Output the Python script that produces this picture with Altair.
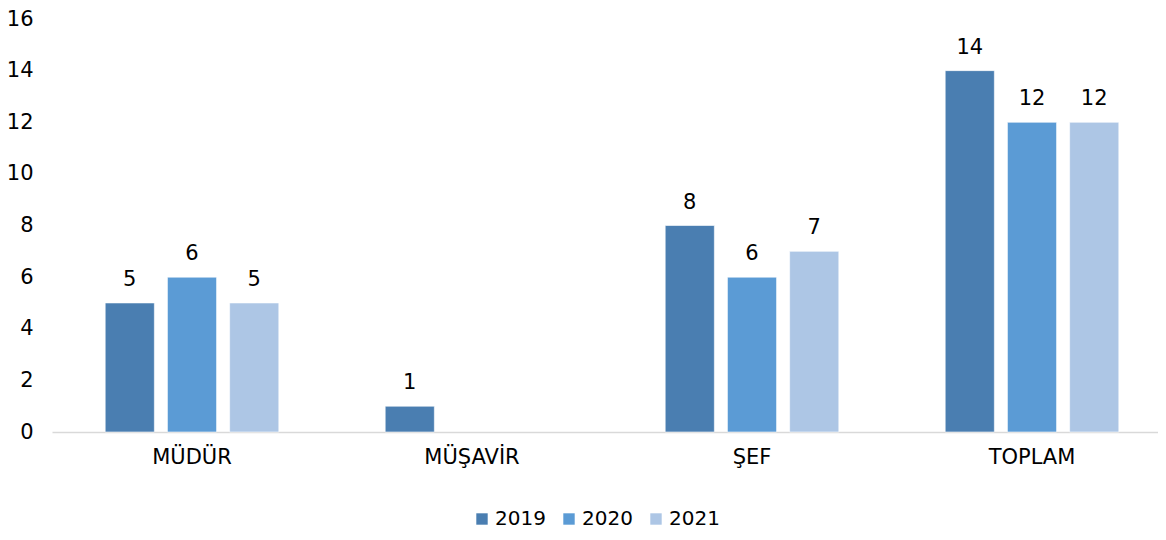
import altair as alt
import pandas as pd

categories = ["MÜDÜR", "MÜŞAVİR", "ŞEF", "TOPLAM"]
years = ["2019", "2020", "2021"]
v2019 = [5, 1, 8, 14]
v2020 = [6, None, 6, 12]
v2021 = [5, None, 7, 12]
colors = ["#4a7eb1", "#5b9bd5", "#adc6e5"]

rows = []
for y, vals in zip(years, [v2019, v2020, v2021]):
    for c, v in zip(categories, vals):
        if v is not None:
            rows.append({"cat": c, "year": y, "value": v})
df = pd.DataFrame(rows)

FONT = "DejaVu Sans"

x = alt.X("cat:N", sort=categories, title=None,
          scale=alt.Scale(paddingInner=0.38, paddingOuter=0.19, range=[0, 1120]),
          axis=alt.Axis(labelAngle=0, labelFontSize=21, labelFont=FONT, labelColor="#000000",
                        domainColor="#d9d9d9", domainWidth=1.5, ticks=False, labelPadding=14))
xo = alt.XOffset("year:N", sort=years, scale=alt.Scale(paddingInner=0.21, paddingOuter=0))
y = alt.Y("value:Q", title=None,
          scale=alt.Scale(domain=[0, 16], nice=False),
          axis=alt.Axis(values=list(range(0, 17, 2)), grid=False, domain=False, ticks=False,
                        labelFontSize=21, labelFont=FONT, labelColor="#000000", labelPadding=19))

color = alt.Color("year:N", sort=years, title=None,
                  scale=alt.Scale(domain=years, range=colors),
                  legend=alt.Legend(orient="none", legendX=420, legendY=490,
                                    direction="horizontal", symbolType="square",
                                    symbolSize=130, symbolStrokeWidth=0, labelFontSize=20,
                                    labelFont=FONT, labelColor="#000000",
                                    columnPadding=13, labelOffset=3))

base = alt.Chart(df).encode(x=x, xOffset=xo, y=y)
bars = base.mark_bar(stroke="white", strokeWidth=0.6).encode(color=color)
labels = base.mark_text(baseline="bottom", dy=-13, fontSize=21, font=FONT, color="#000000").encode(
    text=alt.Text("value:Q"))

chart = (bars + labels).properties(
    width=1106, height=413,
    autosize=alt.AutoSizeParams(type="none"),
    padding={"left": 44, "top": 11, "right": 0, "bottom": 100},
    background="white",
).configure_view(stroke=None)

chart.save("out.html", embed_options={"renderer": "svg", "actions": False})
